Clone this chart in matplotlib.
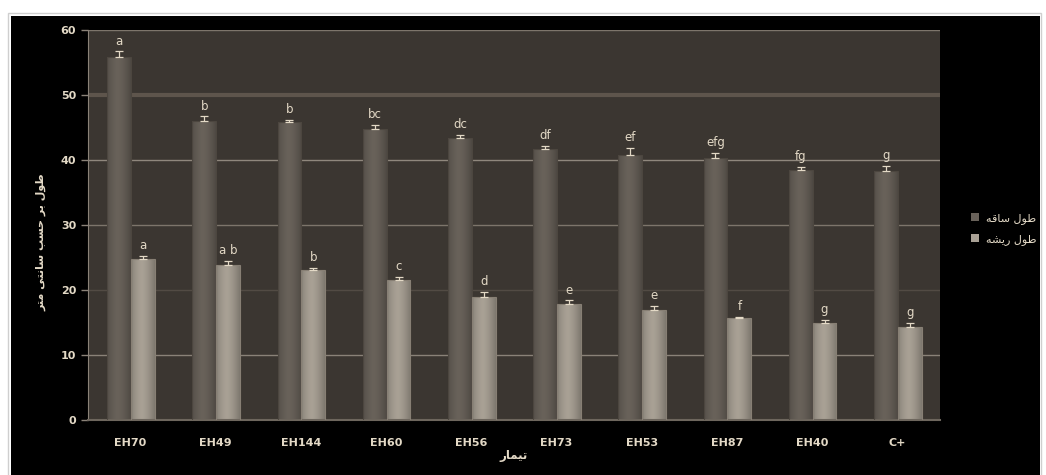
import matplotlib
matplotlib.use("Agg")
import matplotlib.pyplot as plt
from matplotlib.patches import Rectangle
import numpy as np

treatments = ["EH70", "EH49", "EH144", "EH60", "EH56", "EH73", "EH53", "EH87", "EH40", "C+"]
stem_len = [55.8, 46.0, 45.9, 44.8, 43.4, 41.7, 40.7, 40.3, 38.5, 38.3]
stem_err = [0.9, 0.7, 0.2, 0.6, 0.5, 0.4, 1.2, 0.8, 0.4, 0.8]
stem_grp = ["a", "b", "b", "bc", "dc", "df", "ef", "efg", "fg", "g"]
root_len = [24.7, 23.8, 23.1, 21.5, 18.9, 17.8, 17.0, 15.7, 14.9, 14.3]
root_err = [0.6, 0.6, 0.3, 0.5, 0.8, 0.6, 0.6, 0.2, 0.5, 0.7]
root_grp = ["a", "a b", "b", "c", "d", "e", "e", "f", "g", "g"]
yticks = [0, 10, 20, 30, 40, 50, 60]

# minimal arabic/persian shaping: (isolated, final, initial, medial)
FORMS = {
    "ا": ("\uFE8D", "\uFE8E"),
    "ب": ("\uFE8F", "\uFE90", "\uFE91", "\uFE92"),
    "ت": ("\uFE95", "\uFE96", "\uFE97", "\uFE98"),
    "ح": ("\uFEA1", "\uFEA2", "\uFEA3", "\uFEA4"),
    "ر": ("\uFEAD", "\uFEAE"),
    "س": ("\uFEB1", "\uFEB2", "\uFEB3", "\uFEB4"),
    "ش": ("\uFEB5", "\uFEB6", "\uFEB7", "\uFEB8"),
    "ط": ("\uFEC1", "\uFEC2", "\uFEC3", "\uFEC4"),
    "ق": ("\uFED5", "\uFED6", "\uFED7", "\uFED8"),
    "ل": ("\uFEDD", "\uFEDE", "\uFEDF", "\uFEE0"),
    "م": ("\uFEE1", "\uFEE2", "\uFEE3", "\uFEE4"),
    "ن": ("\uFEE5", "\uFEE6", "\uFEE7", "\uFEE8"),
    "ه": ("\uFEE9", "\uFEEA", "\uFEEB", "\uFEEC"),
    "و": ("\uFEED", "\uFEEE"),
    "ی": ("\uFBFC", "\uFBFD", "\uFBFE", "\uFBFF"),
}


def shape(text):
    out = []
    for i, ch in enumerate(text):
        if ch not in FORMS:
            out.append(ch)
            continue
        prev = text[i - 1] if i > 0 else ""
        nxt = text[i + 1] if i + 1 < len(text) else ""
        jp = prev in FORMS and len(FORMS[prev]) == 4
        jn = nxt in FORMS and len(FORMS[ch]) == 4
        f = FORMS[ch]
        if jp and jn:
            out.append(f[3])
        elif jp:
            out.append(f[1])
        elif jn:
            out.append(f[2])
        else:
            out.append(f[0])
    return "".join(reversed(out))


TXT = "#e3d9c6"
BG = "#3b3631"

fig = plt.figure(figsize=(10.46, 4.75), dpi=100)
fig.patch.set_facecolor("white")
# thin grey frame line, then the black panel
fig.add_artist(Rectangle((7.5 / 1046, -0.01), 1033 / 1046, 462.5 / 475 + 0.01, transform=fig.transFigure,
                         facecolor="none", edgecolor="#cfcfcf", lw=1, zorder=-3))
fig.add_artist(Rectangle((11 / 1046, 0), 1029 / 1046, 459 / 475, transform=fig.transFigure,
                         facecolor="black", edgecolor="none", zorder=-2))

ax = fig.add_axes([88 / 1046, 55 / 475, 852 / 1046, 390 / 475])
ax.set_facecolor(BG)
ax.set_zorder(1)

x = np.arange(len(treatments))
w = 0.28
grad = np.linspace(0, 1, 64)
shade = 1 - 0.22 * (np.abs(grad - 0.45) * 2) ** 1.5


def draw_bars(xpos, vals, errs, grps, base, edge):
    bars = ax.bar(xpos, vals, w, color=base, edgecolor="none", zorder=2)
    base_rgb = np.array(matplotlib.colors.to_rgb(base))
    img = np.clip(shade[None, :, None] * base_rgb[None, None, :], 0, 1)
    for b in bars:
        x0, y0 = b.get_x(), b.get_y()
        im = ax.imshow(img, extent=[x0, x0 + b.get_width(), y0, y0 + b.get_height()],
                       aspect="auto", zorder=2.5, interpolation="bilinear")
        im.set_clip_path(b)
        ax.add_patch(Rectangle((x0, y0), b.get_width(), b.get_height(), fill=False,
                               edgecolor=edge, lw=0.8, zorder=2.6))
    ax.errorbar(xpos, vals, yerr=[np.zeros(len(vals)), errs], fmt="none", ecolor=TXT,
                elinewidth=0.9, capsize=3, capthick=0.9, zorder=3)
    for xi, v, e, g in zip(xpos, vals, errs, grps):
        ax.text(xi, v + e + 0.6, g, ha="center", va="bottom", color=TXT, fontsize=8.5, zorder=4)
    return bars


b1 = draw_bars(x - 0.135, stem_len, stem_err, stem_grp, "#69625a", "#4c463f")
b2 = draw_bars(x + 0.145, root_len, root_err, root_grp, "#a9a195", "#877f74")

ax.set_xlim(-0.5, len(treatments) - 0.5)
ax.set_ylim(0, 60)
ax.set_yticks(yticks)
ax.set_xticks(x)
ax.set_xticklabels(treatments, color=TXT, fontsize=8, fontweight="bold")
ax.tick_params(axis="x", length=0, pad=13)
ax.tick_params(axis="y", colors="#8a8278", labelcolor=TXT, labelsize=8, length=5, width=1)
for lab in ax.get_yticklabels():
    lab.set_fontweight("bold")

# horizontal grid
grid_style = {10: ("#8a8278", 1.0), 20: ("#524b44", 1.0), 30: ("#7d756b", 1.0),
              40: ("#8f877d", 1.0), 50: ("#5e554c", 3.0), 60: ("#7d756b", 1.0)}
for yv in yticks[1:]:
    c, lw = grid_style[yv]
    ax.axhline(yv, color=c, lw=lw, zorder=1)

for s in ["top", "right"]:
    ax.spines[s].set_visible(False)
ax.spines["left"].set_color("#8a8278")
ax.spines["bottom"].set_color("#6d665d")
ax.spines["bottom"].set_linewidth(1.5)

fig.text(514 / 1046, 1 - 456 / 475, shape("تیمار"), ha="center", va="center",
         color=TXT, fontsize=8.5, fontweight="bold")
fig.text(41 / 1046, 1 - 242 / 475, shape("طول بر حسب سانتی متر"), ha="center", va="center",
         rotation=90, color=TXT, fontsize=8, fontweight="bold")

leg = ax.legend([b1[0], b2[0]], [shape("طول ساقه"), shape("طول ریشه")],
                loc="center left", bbox_to_anchor=(1.025, 0.49), frameon=False,
                fontsize=8, labelcolor=TXT, handlelength=0.7, handleheight=0.7,
                handletextpad=0.6, labelspacing=0.9)

fig.savefig("out.png", dpi=100, facecolor=fig.get_facecolor())
